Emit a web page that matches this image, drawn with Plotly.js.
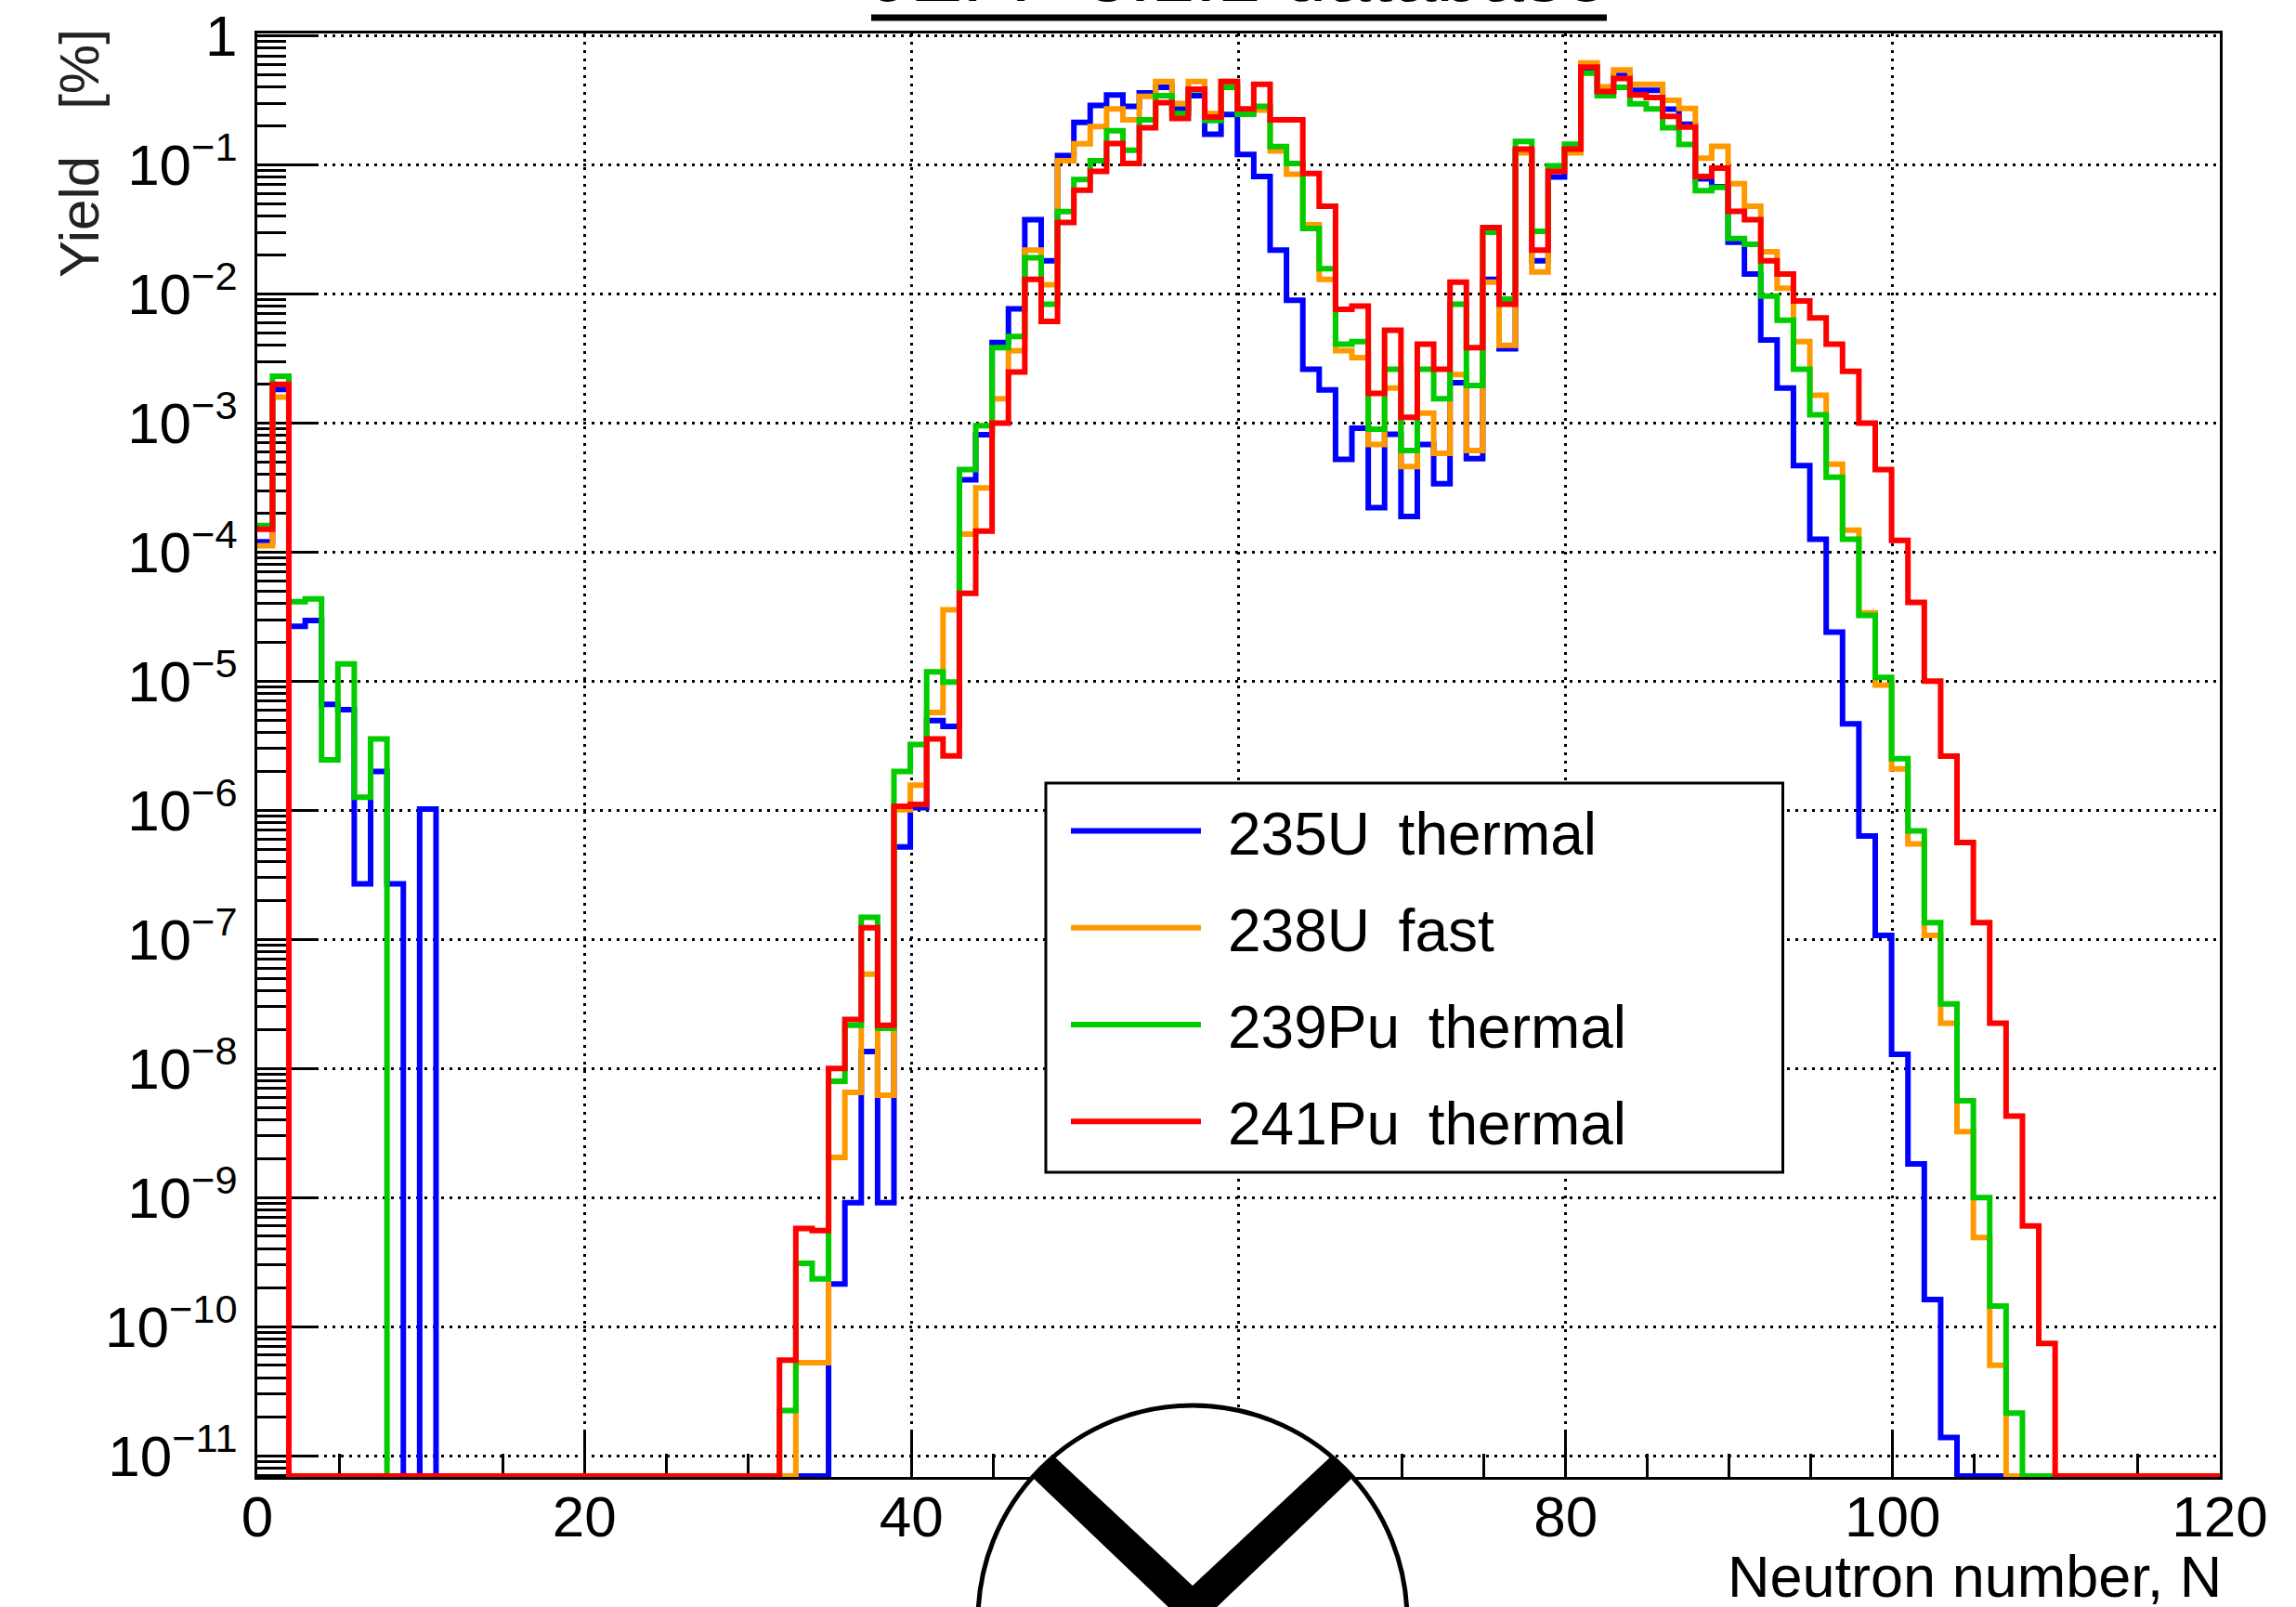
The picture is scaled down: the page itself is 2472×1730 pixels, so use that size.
<!DOCTYPE html>
<html>
<head>
<meta charset="utf-8">
<script src="https://cdn.plot.ly/plotly-3.0.1.min.js"></script>
<style>html,body{margin:0;padding:0;background:#fff;overflow:hidden}#chart{width:2472px;height:1730px}</style>
</head>
<body>
<div id="chart"></div>
<script>
// log10 of the yield per neutron-number bin (index = lower edge of the bin); null = empty bin
const u235Thermal = [
-3.92,-2.74,-4.575,-4.53,-5.18,-5.22,-6.57,-5.70,-6.57,null,
-5.99,null,null,null,null,null,null,null,null,null,
null,null,null,null,null,null,null,null,null,null,
null,null,null,null,null,-9.67,-9.04,-7.87,-9.04,-6.285,
-5.98,-5.305,-5.35,-3.44,-3.09,-2.376,-2.116,-1.425,-1.743,-0.928,
-0.671,-0.539,-0.459,-0.547,-0.442,-0.40,-0.566,-0.464,-0.762,-0.61,
-0.92,-1.091,-1.66,-2.05,-2.583,-2.743,-3.282,-3.041,-3.655,-3.088,
-3.724,-3.166,-3.47,-2.688,-3.276,-1.887,-2.425,-0.892,-1.743,-1.094,
-0.88,-0.25,-0.43,-0.307,-0.423,-0.423,-0.569,-0.685,-1.108,-1.17,
-1.60,-1.845,-2.356,-2.73,-3.33,-3.90,-4.62,-5.33,-6.20,-6.97,
-7.89,-8.74,-9.79,-10.86,null,null,null,null,null,null,
null,null,null,null,null,null,null,null,null,null];
const u238Fast = [
-3.95,-2.80,null,null,null,null,null,null,null,null,
null,null,null,null,null,null,null,null,null,null,
null,null,null,null,null,null,null,null,null,null,
null,null,null,-10.28,-10.28,-8.69,-8.186,-7.27,-8.207,-5.996,
-5.806,-5.242,-4.448,-3.86,-3.503,-2.812,-2.44,-1.66,-1.928,-0.967,
-0.837,-0.704,-0.566,-0.652,-0.47,-0.354,-0.525,-0.354,-0.602,-0.354,
-0.588,-0.575,-0.892,-1.072,-1.464,-1.887,-2.44,-2.494,-3.166,-2.73,
-3.337,-2.923,-3.235,-2.624,-3.213,-1.909,-2.398,-0.906,-1.83,-1.03,
-0.906,-0.21,-0.395,-0.265,-0.376,-0.376,-0.50,-0.563,-0.948,-0.856,
-1.146,-1.32,-1.674,-1.956,-2.37,-2.785,-3.32,-3.83,-4.47,-5.03,
-5.68,-6.26,-6.97,-7.65,-8.49,-9.31,-10.30,null,null,null,
null,null,null,null,null,null,null,null,null,null];
const pu239Thermal = [
-3.795,-2.637,-4.385,-4.363,-5.61,-4.867,-5.90,-5.447,null,null,
null,null,null,null,null,null,null,null,null,null,
null,null,null,null,null,null,null,null,null,null,
null,null,-10.65,-9.51,-9.63,-8.10,-7.665,-6.83,-7.69,-5.70,
-5.49,-4.928,-5.007,-3.36,-3.02,-2.417,-2.329,-1.72,-2.08,-1.362,
-1.113,-0.967,-0.735,-0.887,-0.652,-0.464,-0.602,-0.42,-0.657,-0.40,
-0.608,-0.547,-0.859,-0.989,-1.494,-1.804,-2.39,-2.37,-3.047,-2.583,
-3.213,-2.583,-2.812,-2.08,-2.71,-1.522,-2.04,-0.818,-1.514,-1.008,
-0.84,-0.29,-0.464,-0.40,-0.528,-0.566,-0.713,-0.842,-1.20,-1.174,
-1.57,-1.616,-2.017,-2.204,-2.583,-2.936,-3.42,-3.90,-4.49,-4.97,
-5.60,-6.16,-6.87,-7.50,-8.25,-9.0,-9.84,-10.67,null,null,
null,null,null,null,null,null,null,null,null,null];
const pu241Thermal = [
-3.823,-2.70,null,null,null,null,null,null,null,null,
null,null,null,null,null,null,null,null,null,null,
null,null,null,null,null,null,null,null,null,null,
null,null,-10.26,-9.24,-9.256,-8.0,-7.62,-6.91,-7.665,-5.97,
-5.955,-5.448,-5.578,-4.319,-3.837,-3.0,-2.605,-1.887,-2.213,-1.447,
-1.196,-1.05,-0.834,-0.989,-0.713,-0.519,-0.641,-0.414,-0.63,-0.354,
-0.566,-0.376,-0.652,-0.652,-1.066,-1.32,-2.12,-2.094,-2.77,-2.282,
-2.956,-2.39,-2.583,-1.909,-2.417,-1.486,-2.08,-0.878,-1.66,-1.05,
-0.878,-0.243,-0.431,-0.331,-0.459,-0.478,-0.624,-0.707,-1.09,-1.025,
-1.36,-1.425,-1.743,-1.845,-2.055,-2.185,-2.39,-2.60,-3.0,-3.36,
-3.91,-4.39,-5.0,-5.58,-6.25,-6.87,-7.65,-8.37,-9.22,-10.13,
null,null,null,null,null,null,null,null,null,null];

const seriesNames = ['235U\u00a0\u2009thermal','238U\u00a0\u2009fast','239Pu\u00a0\u2009thermal','241Pu\u00a0\u2009thermal'];
const seriesColors = ['#0000ff','#ff9900','#00cc00','#ff0000'];
const seriesValues = [u235Thermal,u238Fast,pu239Thermal,pu241Thermal];
const yTickVals = [1,1e-1,1e-2,1e-3,1e-4,1e-5,1e-6,1e-7,1e-8,1e-9,1e-10,1e-11];
const yTickText = ['1','10<sup>\u22121</sup>','10<sup>\u22122</sup>','10<sup>\u22123</sup>','10<sup>\u22124</sup>','10<sup>\u22125</sup>','10<sup>\u22126</sup>','10<sup>\u22127</sup>','10<sup>\u22128</sup>','10<sup>\u22129</sup>','10<sup>\u221210</sup>','10<sup>\u221211</sup>'];
const chartTitle = 'JEFF-3.1.1 database';
const xTitle = 'Neutron number, N';
const yTitle = 'Yield\u00a0\u00a0\u00a0[%]';

const W = 2472, H = 1730, L = 277, R = 2390, T = 36, B = 1590;
const FONT = '"Liberation Sans", Arial, sans-serif';
const px = v => (v - L) / (R - L);
const py = v => (B - v) / (B - T);
const EMPTY_LOG = -11.158;          // empty bins sit on the lower frame, as in a log histogram
const EDGE_SHIFT = 0.07;            // bin edges sit a hair left of the axis ticks

const traces = seriesValues.map((vals, s) => {
  const n = vals.length;
  const x = vals.map((_, i) => i === 0 ? 0 : i - EDGE_SHIFT);
  const y = vals.map(v => Math.pow(10, v === null ? EMPTY_LOG : v));
  x.push(n);
  y.push(y[y.length - 1]);
  return {
    type: 'scatter', mode: 'lines', name: seriesNames[s], x, y,
    legendgroup: 'g' + s, cliponaxis: false,
    line: {color: seriesColors[s], width: 6, shape: 'hv', simplify: false}
  };
});

// V logo disc overlapping the lower frame
const cx = 1284, cy = 1744, r = 231;
const logoV = [[1134,1567],[1284,1707],[1434,1567],[1457,1590],[1284,1755],[1111,1590]];
const shapes = [
  {type:'circle', xref:'paper', yref:'paper', layer:'above',
   x0:px(cx-r), x1:px(cx+r), y0:py(cy+r), y1:py(cy-r),
   fillcolor:'#ffffff', line:{color:'#000', width:5}},
  {type:'path', xref:'paper', yref:'paper', layer:'above',
   path: logoV.map((p,i)=>(i?'L':'M')+px(p[0])+','+py(p[1])).join(' ')+' Z',
   fillcolor:'#000', line:{color:'#000', width:0}},
  {type:'line', xref:'paper', yref:'paper', layer:'above',
   x0:px(938), x1:px(1730), y0:py(19), y1:py(19), line:{color:'#000', width:7}},
  // legend frame
  {type:'rect', xref:'paper', yref:'paper', layer:'above',
   x0:px(1126), x1:px(1919.5), y0:py(1262), y1:py(843),
   fillcolor:'#ffffff', line:{color:'#000', width:3}}
];

const layout = {
  width: W, height: H,
  margin: {l: L, r: W - R, t: T, b: H - B, pad: 0},
  paper_bgcolor: '#fff', plot_bgcolor: '#fff',
  font: {family: FONT, color: '#000', size: 60},
  showlegend: true,
  title: {text: chartTitle, x: px(1334), xanchor: 'center', xref: 'paper', y: 1 - 1 / H, yref: 'container', yanchor: 'bottom',
          font: {family: FONT, size: 85, color: '#000'}},
  xaxis: {
    type: 'linear', range: [0, 120], dtick: 20, tick0: 0, tickmode: 'linear',
    ticks: 'inside', ticklen: 48, tickwidth: 2.5, tickcolor: '#000',
    tickfont: {family: FONT, size: 62, color: '#000'}, ticklabelstandoff: -13,
    showline: true, linecolor: '#000', linewidth: 3, mirror: true, layer: 'below traces',
    showgrid: true, gridcolor: '#000', gridwidth: 3, griddash: '3px,6px', zeroline: false,
    minor: {dtick: 5, tick0: 0, ticks: 'inside', ticklen: 25, tickwidth: 2.5, tickcolor: '#000', showgrid: false}
  },
  yaxis: {
    type: 'log', range: [-11.165, 0.018], tickmode: 'array', tickvals: yTickVals, ticktext: yTickText,
    ticks: 'inside', ticklen: 63, tickwidth: 2.5, tickcolor: '#000',
    tickfont: {family: FONT, size: 62, color: '#000'}, ticklabelstandoff: 6, ticklabeloverflow: 'allow',
    showline: true, linecolor: '#000', linewidth: 3, mirror: true, layer: 'below traces',
    showgrid: true, gridcolor: '#000', gridwidth: 3, griddash: '3px,6px', zeroline: false,
    minor: {dtick: 'D1', ticks: 'inside', ticklen: 31, tickwidth: 2.5, tickcolor: '#000', showgrid: false}
  },
  legend: {
    x: px(1148), y: py(846.5), xanchor: 'left', yanchor: 'top',
    bgcolor: 'rgba(0,0,0,0)', borderwidth: 0,
    font: {family: FONT, size: 64, color: '#000'},
    itemwidth: 140, tracegroupgap: 18, traceorder: 'grouped'
  },
  annotations: [
    {text: xTitle, xref: 'paper', yref: 'paper', x: 1, xshift: 4, y: py(1697), xanchor: 'right', yanchor: 'middle', showarrow: false,
     font: {family: FONT, size: 63, color: '#000'}},
    {text: yTitle, xref: 'paper', yref: 'paper', x: px(85), y: py(29), xanchor: 'center', yanchor: 'top', textangle: -90, showarrow: false,
     font: {family: FONT, size: 60, color: '#222'}}
  ],
  shapes
};

Plotly.newPlot('chart', traces, layout, {displayModeBar: false, responsive: false}).then(() => {
  document.querySelectorAll('#chart .js-line').forEach(p => {
    p.style.strokeLinejoin = 'miter'; p.style.strokeMiterlimit = '4'; p.style.strokeLinecap = 'butt';
  });
  document.querySelectorAll('#chart .legendtext').forEach(t => {
    t.setAttribute('x', (+t.getAttribute('x')) + 24);
  });
  document.querySelectorAll('#chart .legend .scrollbox').forEach(g => g.removeAttribute('clip-path'));
});
</script>
</body>
</html>
